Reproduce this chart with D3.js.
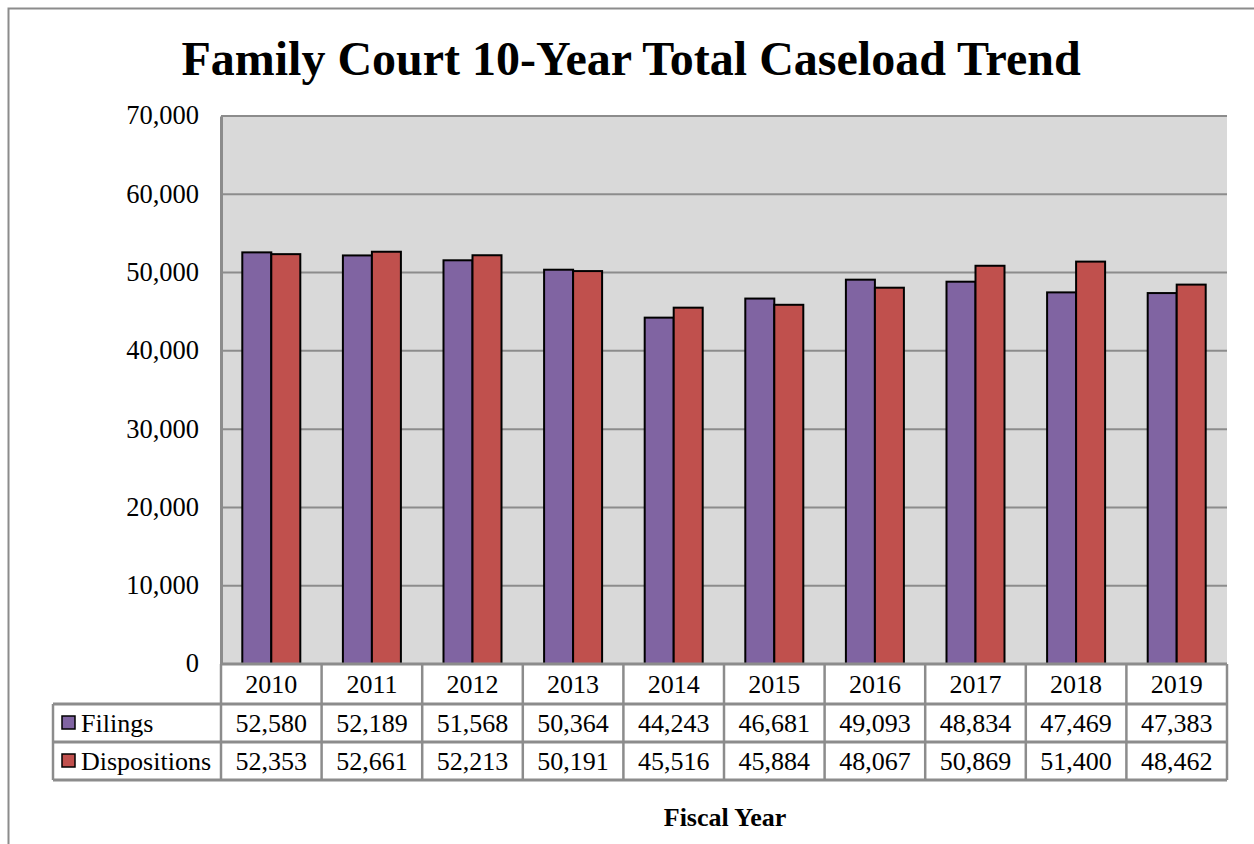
<!DOCTYPE html>
<html>
<head>
<meta charset="utf-8">
<script src="https://cdn.jsdelivr.net/npm/d3@7/dist/d3.min.js"></script>
<style>
  body { margin: 0; background: #fff; }
  text { font-family: "Liberation Serif", "Times New Roman", serif; }
</style>
</head>
<body>
<svg width="1254" height="844"></svg>
<script>
// data
const years = ['2010', '2011', '2012', '2013', '2014', '2015', '2016', '2017', '2018', '2019'];
const filings = [52580, 52189, 51568, 50364, 44243, 46681, 49093, 48834, 47469, 47383];
const dispositions = [52353, 52661, 52213, 50191, 45516, 45884, 48067, 50869, 51400, 48462];
const seriesNames = ['Filings', 'Dispositions'];
const seriesColors = ['#8064a2', '#c0504d'];
const yTicks = [0, 10000, 20000, 30000, 40000, 50000, 60000, 70000];

const svg = d3.select('svg');

// outer frame (runs off right and bottom edge)
svg.append('rect')
    .attr('x', 8.5).attr('y', 8.5)
    .attr('width', 1260).attr('height', 860)
    .attr('fill', 'none').attr('stroke', '#8c8c8c').attr('stroke-width', 2);

// title
svg.append('text')
    .attr('x', 631).attr('y', 75)
    .attr('text-anchor', 'middle')
    .attr('font-size', 48).attr('font-weight', 'bold')
    .text('Family Court 10-Year Total Caseload Trend');

const plotL = 221, plotR = 1227, plotT = 116, plotB = 664;

const x = d3.scaleBand().domain(years).range([plotL, plotR]);
const y = d3.scaleLinear().domain([0, 70000]).range([plotB, plotT]);

// plot area
svg.append('rect')
    .attr('x', plotL).attr('y', plotT)
    .attr('width', plotR - plotL).attr('height', plotB - plotT)
    .attr('fill', '#d9d9d9');

// gridlines
svg.append('g')
    .selectAll('line')
    .data(yTicks)
    .join('line')
    .attr('x1', plotL).attr('x2', plotR)
    .attr('y1', d => y(d)).attr('y2', d => y(d))
    .attr('stroke', '#8c8c8c').attr('stroke-width', 2);

// y axis
const yAxis = svg.append('g')
    .attr('transform', `translate(${plotL},0)`)
    .call(d3.axisLeft(y).tickValues(yTicks).tickSize(0).tickPadding(22).tickFormat(d3.format(',')));
yAxis.select('.domain').attr('stroke', '#8c8c8c').attr('stroke-width', 3);
yAxis.selectAll('text')
    .attr('font-size', 26.5)
    .attr('font-family', '"Liberation Serif", "Times New Roman", serif')
    .attr('fill', '#000')
    .attr('dy', '0.3em');

// bars
const barW = 29;
const sub = d3.scaleBand().domain(seriesNames).range([0, barW * 2]);
const groups = svg.append('g')
    .selectAll('g')
    .data(years)
    .join('g')
    .attr('transform', d => `translate(${x(d) + x.bandwidth() / 2 - barW},0)`);

groups.selectAll('rect')
    .data((d, i) => [filings[i], dispositions[i]].map((v, j) => ({ key: seriesNames[j], v, c: seriesColors[j] })))
    .join('rect')
    .attr('x', d => sub(d.key))
    .attr('y', d => y(d.v))
    .attr('width', sub.bandwidth())
    .attr('height', d => y(0) - y(d.v))
    .attr('fill', d => d.c)
    .attr('stroke', '#000').attr('stroke-width', 2);

// data table
const tableLeft = 53;
const rowY = [664, 704, 742, 780];
const tblStroke = '#8c8c8c';
const tbl = svg.append('g');

// header row texts (years)
tbl.selectAll('text.yr')
    .data(years)
    .join('text')
    .attr('class', 'yr')
    .attr('x', d => x(d) + x.bandwidth() / 2)
    .attr('y', (rowY[0] + rowY[1]) / 2 + 9)
    .attr('text-anchor', 'middle')
    .attr('font-size', 26)
    .text(d => d);

const rows = [filings, dispositions];
rows.forEach((vals, r) => {
  const cy = (rowY[r + 1] + rowY[r + 2]) / 2 + 9;
  tbl.selectAll('text.v' + r)
      .data(vals)
      .join('text')
      .attr('class', 'v' + r)
      .attr('x', (d, i) => x(years[i]) + x.bandwidth() / 2)
      .attr('y', cy)
      .attr('text-anchor', 'middle')
      .attr('font-size', 26)
      .text(d => d3.format(',')(d));
  tbl.append('rect')
      .attr('x', 62).attr('y', cy - 16)
      .attr('width', 13).attr('height', 13)
      .attr('fill', seriesColors[r])
      .attr('stroke', '#000').attr('stroke-width', 1.5);
  tbl.append('text')
      .attr('x', 81).attr('y', cy)
      .attr('font-size', 26)
      .text(seriesNames[r]);
});

// table lines
const hLines = [
  { x1: plotL, x2: plotR, y: rowY[0] },
  { x1: tableLeft, x2: plotR, y: rowY[1] },
  { x1: tableLeft, x2: plotR, y: rowY[2] },
  { x1: tableLeft, x2: plotR, y: rowY[3] }
];
tbl.selectAll('line.h')
    .data(hLines)
    .join('line')
    .attr('class', 'h')
    .attr('x1', d => d.x1).attr('x2', d => d.x2)
    .attr('y1', d => d.y).attr('y2', d => d.y)
    .attr('stroke', tblStroke).attr('stroke-width', 3);

const vX = years.map(d => x(d)).concat([plotR]);
tbl.selectAll('line.v')
    .data(vX)
    .join('line')
    .attr('class', 'v')
    .attr('x1', d => d).attr('x2', d => d)
    .attr('y1', rowY[0]).attr('y2', rowY[3])
    .attr('stroke', tblStroke).attr('stroke-width', 2.5);
tbl.append('line')
    .attr('x1', tableLeft).attr('x2', tableLeft)
    .attr('y1', rowY[1]).attr('y2', rowY[3])
    .attr('stroke', tblStroke).attr('stroke-width', 2.5);

// x axis title
svg.append('text')
    .attr('x', 725).attr('y', 826)
    .attr('text-anchor', 'middle')
    .attr('font-size', 26).attr('font-weight', 'bold')
    .text('Fiscal Year');
</script>
</body>
</html>
